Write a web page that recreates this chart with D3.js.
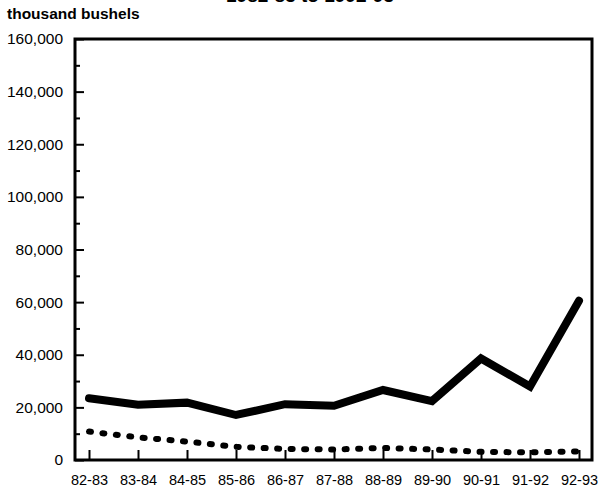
<!DOCTYPE html>
<html>
<head>
<meta charset="utf-8">
<script src="https://cdn.jsdelivr.net/npm/d3@7"></script>
<style>
  body { margin: 0; background: #fff; }
  text { font-family: "Liberation Sans", Arial, sans-serif; fill: #000; }
</style>
</head>
<body>
<div id="chart"></div>
<script>
// Data (thousand bushels)
var years = ["82-83", "83-84", "84-85", "85-86", "86-87", "87-88", "88-89", "89-90", "90-91", "91-92", "92-93"];
var solidValues = [23500, 21000, 21800, 17100, 21200, 20600, 26600, 22400, 38600, 27900, 60500];
var dottedValues = [10800, 8600, 7000, 5000, 4200, 4000, 4600, 4000, 3100, 2900, 3300];
var yTicks = [0, 20000, 40000, 60000, 80000, 100000, 120000, 140000, 160000];
var yMinorTicks = [10000, 30000, 50000, 70000, 90000, 110000, 130000, 150000];

// Step 1: chart size
var svgWidth = 598;
var svgHeight = 492;
var margin = { top: 39, right: 5, bottom: 32, left: 75 };
var chartWidth = svgWidth - margin.left - margin.right;
var chartHeight = svgHeight - margin.top - margin.bottom;

var svg = d3.select("#chart")
  .append("svg")
  .attr("width", svgWidth)
  .attr("height", svgHeight);

var chartGroup = svg.append("g")
  .attr("transform", `translate(${margin.left}, ${margin.top})`);

// Step 2: scales
var xScale = d3.scalePoint()
  .domain(years)
  .range([14, 504]);

var yScale = d3.scaleLinear()
  .domain([0, 160000])
  .range([chartHeight, 0]);

// Step 3: axes (ticks point into the plot)
var yAxis = d3.axisLeft(yScale)
  .tickValues(yTicks)
  .tickSize(-9)
  .tickPadding(12)
  .tickFormat(d3.format(","));

var yMinor = d3.axisLeft(yScale)
  .tickValues(yMinorTicks)
  .tickSize(-5)
  .tickFormat("");

var xAxis = d3.axisBottom(xScale)
  .tickSize(-10)
  .tickPadding(14.5);

var gy = chartGroup.append("g").call(yAxis);
gy.selectAll("text").style("font-size", "15.5px");

var gyMinor = chartGroup.append("g").call(yMinor);

var gx = chartGroup.append("g")
  .attr("transform", `translate(0, ${chartHeight})`)
  .call(xAxis);
gx.selectAll("text").style("font-size", "14.5px");

[gy, gyMinor, gx].forEach(function(g) {
  g.select(".domain").remove();
  g.selectAll(".tick line").attr("stroke", "#000").attr("stroke-width", 2);
});

// frame round the plot
chartGroup.append("rect")
  .attr("x", 0)
  .attr("y", 0)
  .attr("width", chartWidth - 1)
  .attr("height", chartHeight)
  .attr("fill", "none")
  .attr("stroke", "#000")
  .attr("stroke-width", 3);

// Step 4: lines
var line = d3.line()
  .x((d, i) => xScale(years[i]))
  .y(d => yScale(d));

chartGroup.append("path")
  .datum(dottedValues)
  .attr("d", line)
  .attr("fill", "none")
  .attr("stroke", "#000")
  .attr("stroke-width", 6)
  .attr("stroke-linecap", "round")
  .attr("stroke-dasharray", "2 11.5");

chartGroup.append("path")
  .datum(solidValues)
  .attr("d", line)
  .attr("fill", "none")
  .attr("stroke", "#000")
  .attr("stroke-width", 8)
  .attr("stroke-linejoin", "miter")
  .attr("stroke-linecap", "round");

// titles
svg.append("text")
  .attr("x", 7)
  .attr("y", 19)
  .style("font-size", "15.5px")
  .style("font-weight", "bold")
  .text("thousand bushels");

// chart title, mostly cut off at the top edge
svg.append("text")
  .attr("x", 310)
  .attr("y", 1.5)
  .attr("text-anchor", "middle")
  .style("font-size", "19px")
  .style("font-weight", "bold")
  .text("1982-83 to 1992-93");
</script>
</body>
</html>
